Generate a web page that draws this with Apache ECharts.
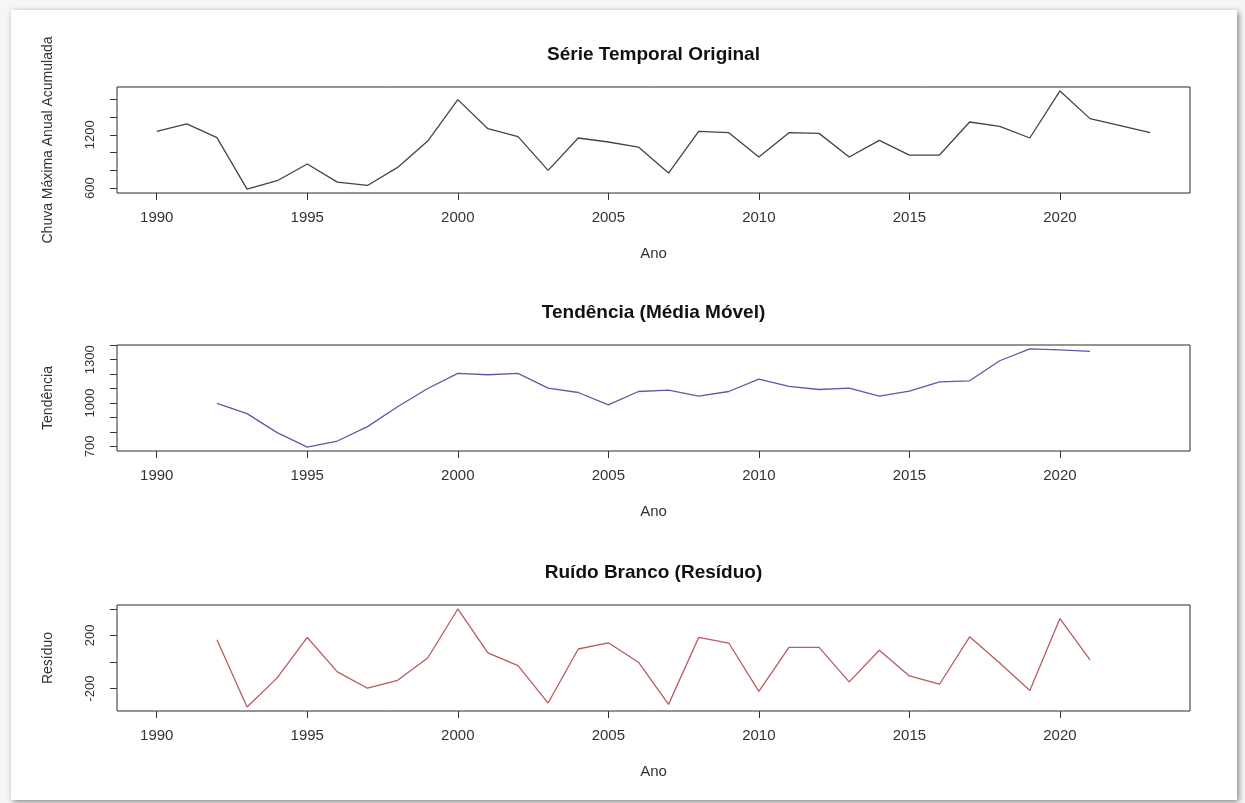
<!DOCTYPE html>
<html>
<head>
<meta charset="utf-8">
<script src="https://cdn.jsdelivr.net/npm/echarts@6/dist/echarts.min.js"></script>
<style>
html,body{margin:0;padding:0;background:#f6f6f6;}
#chart{width:1245px;height:803px;}
</style>
</head>
<body>
<div id="chart"></div>
<script>
const years = [1990,1991,1992,1993,1994,1995,1996,1997,1998,1999,2000,2001,2002,2003,2004,2005,2006,2007,2008,2009,2010,2011,2012,2013,2014,2015,2016,2017,2018,2019,2020,2021,2022,2023];
const chuva = [1239,1322,1168,589,683,871,668,630,833,1130,1596,1269,1179,799,1164,1119,1062,769,1239,1224,950,1224,1216,950,1138,972,972,1344,1295,1164,1694,1382,1303,1224];
const trendYears = [1992,1993,1994,1995,1996,1997,1998,1999,2000,2001,2002,2003,2004,2005,2006,2007,2008,2009,2010,2011,2012,2013,2014,2015,2016,2017,2018,2019,2020,2021];
const tendencia = [997,927,795,695,737,837,974,1101,1205,1196,1205,1103,1073,987,1080,1089,1048,1080,1166,1115,1094,1103,1048,1082,1147,1154,1293,1375,1368,1358];
const residuo = [167,-340,-120,185,-75,-198,-138,30,400,68,-28,-310,98,145,-2,-320,185,143,-222,110,110,-150,88,-105,-168,190,-8,-215,328,15];

const xTicks = [1990,1995,2000,2005,2010,2015,2020];
const titles = ['Série Temporal Original','Tendência (Média Móvel)','Ruído Branco (Resíduo)'];
const yNames = ['Chuva Máxima Anual Acumulada','Tendência','Resíduo'];
const yTicks1 = [600,800,1000,1200,1400,1600];
const yLabels1 = [600,1200];
const yTicks2 = [700,800,900,1000,1100,1200,1300,1400];
const yLabels2 = [700,1000,1300];
const yTicks3 = [-200,0,200,400];
const yLabels3 = [-200,200];

const FONT = '"Liberation Sans", Arial, sans-serif';
const tops = [87,345,605];
const H = 106;
const yRanges = [[545,1738],[668,1402],[-370,430]];
const yT = [yTicks1,yTicks2,yTicks3];
const yL = [yLabels1,yLabels2,yLabels3];
const colors = ['#444444','#5a5aa8','#b85c5c'];
const seriesData = [
  years.map((y,i)=>[y,chuva[i]]),
  trendYears.map((y,i)=>[y,tendencia[i]]),
  trendYears.map((y,i)=>[y,residuo[i]])
];
const plain = v => String(v);

const grids=[],xAxes=[],yAxes=[],series=[],graphics=[];
graphics.push({type:'rect',z:-100,shape:{x:11,y:10,width:1226,height:790},
  style:{fill:'#ffffff',shadowBlur:6,shadowColor:'rgba(0,0,0,0.45)',shadowOffsetX:2,shadowOffsetY:2}});
for(let i=0;i<3;i++){
  grids.push({left:117,right:55,top:tops[i],height:H,show:true,borderColor:'#2a2a2a',borderWidth:1,backgroundColor:'transparent'});
  xAxes.push({type:'value',gridIndex:i,min:1988.68,max:2024.32,
    name:'Ano',nameLocation:'middle',nameGap:53,
    nameTextStyle:{fontFamily:FONT,fontSize:15,color:'#333'},
    axisLine:{show:false,onZero:false},splitLine:{show:false},
    axisTick:{show:true,inside:false,length:7,lineStyle:{color:'#333'},customValues:xTicks},
    axisLabel:{show:true,margin:17,fontFamily:FONT,fontSize:15,color:'#333',customValues:xTicks,formatter:plain}
  });
  yAxes.push({type:'value',gridIndex:i,min:yRanges[i][0],max:yRanges[i][1],
    name:yNames[i],nameLocation:'middle',nameGap:62,
    nameTextStyle:{fontFamily:FONT,fontSize:14,color:'#333'},
    axisLine:{show:false,onZero:false},splitLine:{show:false},
    axisTick:{show:true,inside:false,length:7,lineStyle:{color:'#333'},customValues:yT[i]},
    axisLabel:{show:true,rotate:90,margin:20,fontFamily:FONT,fontSize:13,color:'#333',customValues:yL[i],formatter:plain}
  });
  series.push({type:'line',xAxisIndex:i,yAxisIndex:i,data:seriesData[i],showSymbol:false,
    lineStyle:{color:colors[i],width:1.3},itemStyle:{color:colors[i]},animation:false});
  graphics.push({type:'text',x:653.5,y:tops[i]-32,
    style:{text:titles[i],textAlign:'center',textVerticalAlign:'middle',font:'bold 19px '+FONT,fill:'#111'}});
}

const chart = echarts.init(document.getElementById('chart'));
chart.setOption({
  backgroundColor:'#f6f6f6',
  animation:false,
  grid:grids,xAxis:xAxes,yAxis:yAxes,series:series,graphic:graphics
});
</script>
</body>
</html>
